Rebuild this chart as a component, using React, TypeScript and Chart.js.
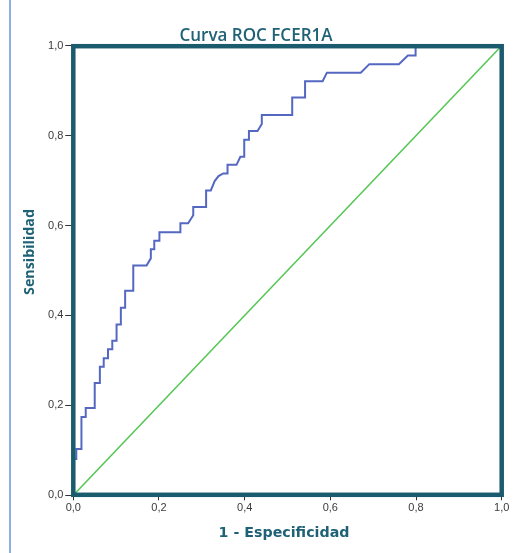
import React, { useEffect, useRef } from "react";
import { Chart, registerables } from "chart.js";

Chart.register(...registerables);

const chartTitle = "Curva ROC FCER1A";
const xTitle = "1 - Especificidad";
const yTitle = "Sensibilidad";

const xTickLabels = ["0,0", "0,2", "0,4", "0,6", "0,8", "1,0"];
const yTickLabels = ["0,0", "0,2", "0,4", "0,6", "0,8", "1,0"];

// ROC curve: 1 - specificity (x) and sensitivity (y)
const fpr = [0, 0, 0.007, 0.007, 0.019, 0.019, 0.029, 0.029, 0.05, 0.05, 0.062, 0.062, 0.071, 0.071, 0.081, 0.081, 0.091, 0.091, 0.101, 0.101, 0.111, 0.111, 0.121, 0.121, 0.14, 0.14, 0.171, 0.181, 0.181, 0.189, 0.189, 0.201, 0.201, 0.25, 0.25, 0.268, 0.28, 0.28, 0.31, 0.31, 0.321, 0.33, 0.339, 0.35, 0.36, 0.36, 0.381, 0.39, 0.399, 0.399, 0.41, 0.41, 0.43, 0.44, 0.44, 0.511, 0.511, 0.541, 0.541, 0.582, 0.592, 0.671, 0.691, 0.76, 0.781, 0.799, 0.799, 1];
const tpr = [0, 0.081, 0.081, 0.103, 0.103, 0.174, 0.174, 0.194, 0.194, 0.25, 0.25, 0.286, 0.286, 0.305, 0.305, 0.325, 0.325, 0.344, 0.344, 0.38, 0.38, 0.417, 0.417, 0.455, 0.455, 0.511, 0.511, 0.527, 0.547, 0.547, 0.566, 0.566, 0.585, 0.585, 0.605, 0.605, 0.623, 0.641, 0.641, 0.678, 0.678, 0.699, 0.71, 0.716, 0.716, 0.735, 0.735, 0.753, 0.753, 0.791, 0.791, 0.81, 0.81, 0.826, 0.846, 0.846, 0.885, 0.885, 0.921, 0.921, 0.94, 0.94, 0.959, 0.959, 0.978, 0.978, 1, 1];

// Reference line
const refX = [0, 1];
const refY = [0, 1];

const TEAL = "#1f6276";
const FRAME = "#1b5b6e";

function drawFitted(
  ctx: CanvasRenderingContext2D,
  text: string,
  family: string,
  weight: string,
  targetWidth: number,
  cx: number,
  cy: number,
  rotate: boolean
) {
  ctx.save();
  ctx.font = `${weight} 20px ${family}`;
  const w = ctx.measureText(text).width;
  const size = (20 * targetWidth) / w;
  ctx.font = `${weight} ${size.toFixed(2)}px ${family}`;
  ctx.fillStyle = TEAL;
  ctx.textAlign = "center";
  ctx.textBaseline = "middle";
  ctx.translate(cx, cy);
  if (rotate) ctx.rotate(-Math.PI / 2);
  ctx.fillText(text, 0, 0);
  ctx.restore();
}

const decorPlugin = {
  id: "decor",
  beforeDraw(chart: any) {
    const ctx = chart.ctx as CanvasRenderingContext2D;
    ctx.save();
    ctx.fillStyle = "#ffffff";
    ctx.fillRect(0, 0, chart.width, chart.height);
    ctx.fillStyle = "#8db0e3";
    ctx.fillRect(9, 0, 2, chart.height);
    ctx.restore();
  },
  afterDatasetsDraw(chart: any) {
    const ctx = chart.ctx as CanvasRenderingContext2D;
    const a = chart.chartArea;
    ctx.save();
    ctx.strokeStyle = FRAME;
    ctx.lineWidth = 4.5;
    ctx.strokeRect(a.left, a.top + 0.5, a.right - a.left, a.bottom - a.top - 1);
    ctx.restore();
  },
  afterDraw(chart: any) {
    const ctx = chart.ctx as CanvasRenderingContext2D;
    drawFitted(ctx, chartTitle, "'Open Sans'", "600", 153, 256, 36.5, false);
    drawFitted(ctx, xTitle, "'DejaVu Sans'", "bold", 131, 284, 533, false);
    drawFitted(ctx, yTitle, "'Open Sans'", "bold", 86, 30, 252, true);
  },
};

export default function App() {
  const ref = useRef<HTMLCanvasElement | null>(null);

  useEffect(() => {
    if (!ref.current) return;
    const rocData = fpr.map((x, i) => ({ x, y: tpr[i] }));
    const diagData = refX.map((x, i) => ({ x, y: refY[i] }));
    const tickFont = { family: "'Liberation Sans', Arial, sans-serif", size: 11 };
    const chart = new Chart(ref.current, {
      type: "scatter",
      data: {
        datasets: [
          {
            label: "Referencia",
            data: diagData,
            showLine: true,
            borderColor: "#55c655",
            borderWidth: 1.6,
            pointRadius: 0,
            fill: false,
          },
          {
            label: "FCER1A",
            data: rocData,
            showLine: true,
            borderColor: "#5468c2",
            borderWidth: 2,
            pointRadius: 0,
            fill: false,
            tension: 0,
          },
        ],
      },
      options: {
        responsive: false,
        animation: false,
        devicePixelRatio: 1,
        layout: { padding: { left: 0, top: 45.7, right: 27.3, bottom: 0 } },
        plugins: {
          legend: { display: false },
          title: { display: false },
          tooltip: { enabled: false },
        },
        scales: {
          x: {
            type: "linear",
            min: 0,
            max: 1,
            border: { display: false },
            grid: {
              drawOnChartArea: false,
              drawTicks: true,
              tickLength: 5,
              color: "#333333",
            },
            ticks: {
              stepSize: 0.2,
              padding: 1,
              color: "#3a3a3a",
              font: tickFont,
              maxRotation: 0,
              callback: (_v: any, i: number) => xTickLabels[i],
            },
            afterFit: (scale: any) => {
              scale.height = 553 - 495.3;
            },
          },
          y: {
            type: "linear",
            min: 0,
            max: 1,
            border: { display: false },
            grid: {
              drawOnChartArea: false,
              drawTicks: true,
              tickLength: 8,
              color: "#333333",
            },
            ticks: {
              stepSize: 0.2,
              padding: 2,
              color: "#3a3a3a",
              font: tickFont,
              callback: (_v: any, i: number) => yTickLabels[i],
            },
            afterFit: (scale: any) => {
              scale.width = 73.3;
            },
          },
        },
      },
      plugins: [decorPlugin],
    });
    return () => chart.destroy();
  }, []);

  return (
    <canvas
      ref={ref}
      width={529}
      height={553}
      style={{ position: "fixed", left: 0, top: 0, width: 529, height: 553 }}
    />
  );
}
